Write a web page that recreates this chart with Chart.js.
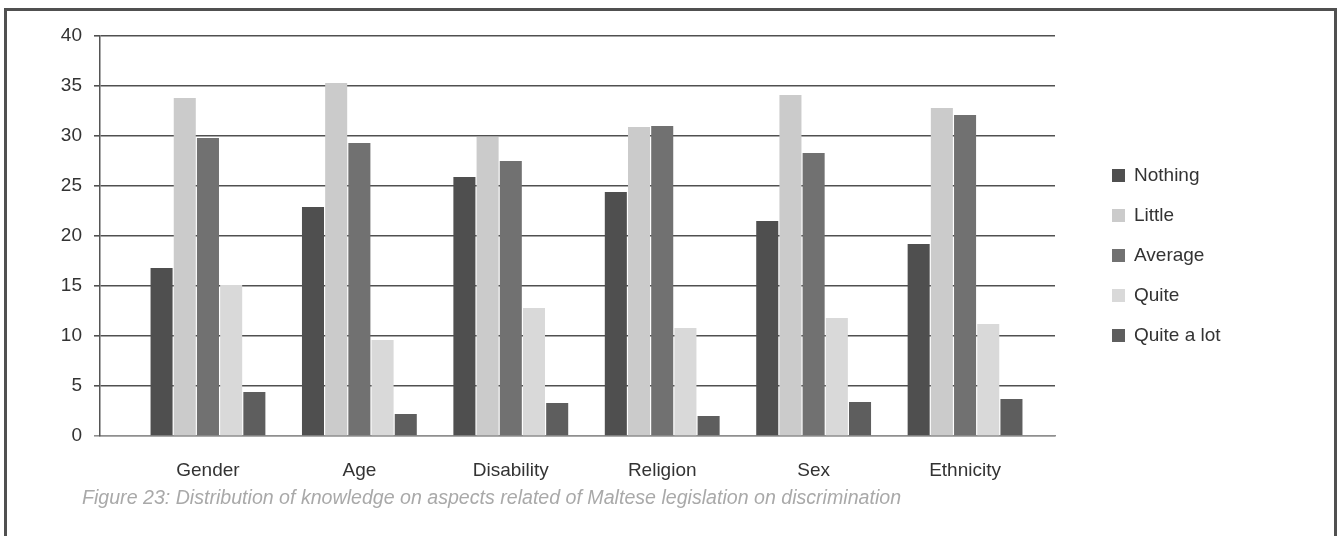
<!DOCTYPE html>
<html>
<head>
<meta charset="utf-8">
<script src="https://cdn.jsdelivr.net/npm/chart.js@4/dist/chart.umd.min.js"></script>
<style>
  html, body { margin: 0; padding: 0; background: #ffffff; }
  #wrap { position: relative; width: 1343px; height: 536px; overflow: hidden; background: #fff; }
  #frame { position: absolute; left: 4px; top: 8px; width: 1333px; height: 560px; border: 3px solid #505050; box-sizing: border-box; }
  #c { position: absolute; left: 0; top: 0; }
  #legend { position: absolute; left: 1112px; top: 0; font-family: "Liberation Sans", Arial, sans-serif; font-size: 19px; color: #333; }
  .li { position: absolute; left: 0; height: 20px; white-space: nowrap; display: flex; align-items: center; }
  .sw { width: 13px; height: 13px; margin-right: 9px; flex: none; }
  #caption { position: absolute; left: 82px; top: 486px; font-family: "Liberation Sans", Arial, sans-serif; font-style: italic; font-size: 19.6px; color: #a9a9a9; white-space: nowrap; }
</style>
</head>
<body>
<div id="wrap">
  <div id="frame"></div>
  <canvas id="c" width="1343" height="536"></canvas>
  <div id="legend"></div>
  <div id="caption">Figure 23: Distribution of knowledge on aspects related of Maltese legislation on discrimination</div>
</div>
<script>
const categories = ["Gender", "Age", "Disability", "Religion", "Sex", "Ethnicity"];
const seriesNames = ["Nothing", "Little", "Average", "Quite", "Quite a lot"];
const nothing   = [16.8, 22.9, 25.9, 24.4, 21.5, 19.2];
const little    = [33.8, 35.3, 29.9, 30.9, 34.1, 32.8];
const average   = [29.8, 29.3, 27.5, 31.0, 28.3, 32.1];
const quite     = [15.1, 9.6, 12.8, 10.8, 11.8, 11.2];
const quiteALot = [4.4, 2.2, 3.3, 2.0, 3.4, 3.7];
const yTicks = [0, 5, 10, 15, 20, 25, 30, 35, 40];
const seriesColors = ["#4f4f4f", "#cbcbcb", "#717171", "#d9d9d9", "#5e5e5e"];

const seriesValues = [nothing, little, average, quite, quiteALot];

const datasets = seriesNames.map((name, s) => ({
  label: name,
  data: seriesValues[s].map((v, i) => ({ x: i, y: v })),
  backgroundColor: seriesColors[s],
  borderWidth: 0,
  categoryPercentage: 0.766,
  barPercentage: 0.95
}));

const font = { family: "'Liberation Sans', Arial, sans-serif", size: 19 };

new Chart(document.getElementById('c'), {
  type: 'bar',
  data: { datasets },
  options: {
    responsive: false,
    animation: false,
    devicePixelRatio: 1,
    layout: { padding: { left: 0, right: 288, top: 36, bottom: 50 } },
    plugins: { legend: { display: false }, tooltip: { enabled: false } },
    scales: {
      x: {
        type: 'linear',
        offset: false,
        min: -0.713,
        max: 5.594,
        afterBuildTicks: (axis) => { axis.ticks = categories.map((c, i) => ({ value: i })); },
        afterFit: (scale) => { scale.height = 50; },
        grid: { display: false, offset: false },
        border: { display: true, color: '#8f8f8f', width: 1.5 },
        ticks: {
          autoSkip: false,
          maxRotation: 0,
          padding: 15,
          color: '#333',
          font,
          callback: (v) => categories[v] !== undefined ? categories[v] : ''
        }
      },
      y: {
        min: 0,
        max: 40,
        afterBuildTicks: (axis) => { axis.ticks = yTicks.map(v => ({ value: v })); },
        afterFit: (scale) => { scale.width = 100; },
        grid: {
          color: (ctx) => (ctx.tick && ctx.tick.value === 0) ? '#8f8f8f' : '#505050',
          lineWidth: 1.6,
          tickLength: 6
        },
        border: { display: true, color: '#555', width: 1.5 },
        ticks: { padding: 12, color: '#333', font }
      }
    }
  }
});

const legend = document.getElementById('legend');
seriesNames.forEach((name, s) => {
  const item = document.createElement('div');
  item.className = 'li';
  item.style.top = (175 + s * 40 - 10) + 'px';
  const sw = document.createElement('span');
  sw.className = 'sw';
  sw.style.background = seriesColors[s];
  const tx = document.createElement('span');
  tx.textContent = name;
  item.appendChild(sw);
  item.appendChild(tx);
  legend.appendChild(item);
});
</script>
</body>
</html>
